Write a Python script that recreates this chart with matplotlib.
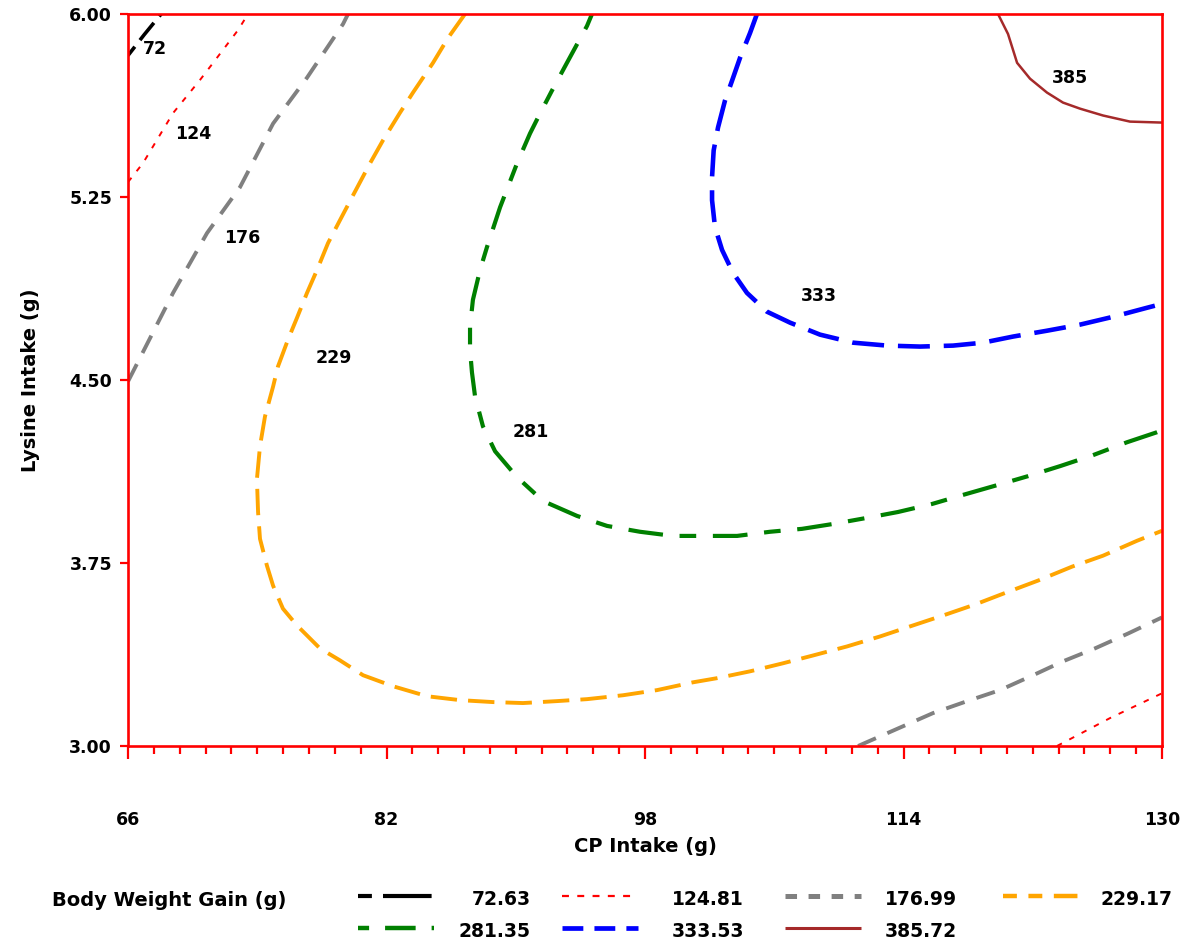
import matplotlib
matplotlib.use("Agg")
import matplotlib.pyplot as plt
from matplotlib.lines import Line2D
from matplotlib.ticker import FixedLocator, FormatStrFormatter
import numpy as np

plt.rcParams['font.family'] = ['DejaVu Sans']
plt.rcParams['lines.scale_dashes'] = False

# ---------------- data ----------------
levels = [72.63, 124.81, 176.99, 229.17, 281.35, 333.53, 385.72]
level_text = ['72.63', '124.81', '176.99', '229.17', '281.35', '333.53', '385.72']
line_labels = ['72', '124', '176', '229', '281', '333', '385']
label_x = [67.67, 70.02, 73.06, 78.75, 90.94, 108.77, 124.31]
label_y = [5.857, 5.51, 5.082, 4.592, 4.286, 4.845, 5.739]

x_ticks = [66, 82, 98, 114, 130]
y_ticks = [3.00, 3.75, 4.50, 5.25, 6.00]

# 72.63
c72_x = [66.0, 67.0, 68.05]
c72_y = [5.83, 5.915, 6.0]
# 124.81 (upper-left piece and lower-right piece)
c124a_x = [66.0, 66.93, 68.79, 70.46, 71.26, 72.81, 73.43]
c124a_y = [5.311, 5.389, 5.594, 5.730, 5.799, 5.934, 6.0]
c124b_x = [123.50, 126.80, 130.0]
c124b_y = [3.0, 3.115, 3.216]
# 176.99
c177a_x = [66.0, 68.79, 70.89, 72.93, 74.98, 77.08, 79.31, 79.62]
c177a_y = [4.494, 4.857, 5.102, 5.290, 5.551, 5.739, 5.959, 6.0]
c177b_x = [111.19, 115.83, 118.12, 119.97, 122.02, 123.87, 125.85, 127.90, 130.0]
c177b_y = [3.0, 3.135, 3.188, 3.229, 3.290, 3.347, 3.400, 3.461, 3.527]
# 229.17
c229_x = [86.86, 85.81, 84.88, 83.64, 82.84, 81.78, 80.98, 79.93, 79.12, 78.38,
          77.70, 77.08, 76.46, 75.90, 75.28, 74.98, 74.48, 74.17, 73.98, 74.05,
          74.17, 74.60, 74.98, 75.59, 76.46, 77.88, 79.12, 80.55, 82.40, 84.51,
          86.55, 88.59, 90.45, 92.55, 94.41, 96.64, 98.74, 100.97, 102.46, 104.50,
          106.54, 108.40, 110.50, 112.55, 114.40, 116.45, 118.43, 120.16, 122.33,
          124.43, 126.35, 128.45, 130.0]
c229_y = [6.000, 5.902, 5.800, 5.678, 5.596, 5.482, 5.388, 5.257, 5.155, 5.061,
          4.951, 4.857, 4.755, 4.665, 4.555, 4.473, 4.351, 4.229, 4.094, 3.959,
          3.849, 3.739, 3.657, 3.563, 3.494, 3.400, 3.351, 3.290, 3.245, 3.204,
          3.188, 3.180, 3.176, 3.184, 3.192, 3.208, 3.229, 3.261, 3.278, 3.306,
          3.339, 3.371, 3.408, 3.449, 3.490, 3.535, 3.580, 3.624, 3.678, 3.735,
          3.780, 3.841, 3.882]
# 281.35
c281_x = [94.72, 94.41, 93.17, 92.24, 91.50, 90.88, 90.08, 89.03, 88.22, 87.79,
          87.35, 87.17, 87.17, 87.29, 87.48, 87.97, 88.72, 90.08, 91.69, 93.79,
          95.65, 97.69, 99.73, 101.59, 103.70, 105.74, 107.72, 109.64, 111.74,
          113.66, 115.77, 117.68, 119.79, 121.71, 123.69, 125.73, 127.84, 129.69,
          130.0]
c281_y = [6.000, 5.951, 5.800, 5.686, 5.592, 5.510, 5.388, 5.208, 5.045, 4.951,
          4.829, 4.718, 4.624, 4.531, 4.433, 4.310, 4.208, 4.102, 4.004, 3.943,
          3.902, 3.878, 3.861, 3.861, 3.861, 3.878, 3.890, 3.910, 3.935, 3.959,
          3.992, 4.029, 4.069, 4.106, 4.147, 4.192, 4.245, 4.286, 4.294]
# 333.53
c334_x = [104.93, 104.50, 103.88, 103.39, 102.95, 102.52, 102.25, 102.15, 102.15,
          102.33, 102.77, 103.45, 104.31, 105.55, 106.98, 108.83, 110.88, 112.98,
          115.02, 117.07, 118.92, 120.78, 122.88, 124.93, 126.97, 129.07, 130.0]
c334_y = [6.000, 5.922, 5.820, 5.727, 5.645, 5.535, 5.441, 5.331, 5.237, 5.127,
          5.033, 4.939, 4.857, 4.780, 4.735, 4.686, 4.653, 4.641, 4.637, 4.641,
          4.653, 4.678, 4.702, 4.727, 4.759, 4.796, 4.812]
# 385.72
c386_x = [119.85, 120.47, 121.03, 121.83, 122.88, 123.87, 124.93, 126.35, 128.02, 130.0]
c386_y = [6.000, 5.918, 5.800, 5.735, 5.678, 5.637, 5.612, 5.584, 5.559, 5.555]

paths = [
    [(c72_x, c72_y)],
    [(c124a_x, c124a_y), (c124b_x, c124b_y)],
    [(c177a_x, c177a_y), (c177b_x, c177b_y)],
    [(c229_x, c229_y)],
    [(c281_x, c281_y)],
    [(c334_x, c334_y)],
    [(c386_x, c386_y)],
]

# ---------------- styles ----------------
colors = ['black', '#FF0000', '#808080', '#FFA500', '#008000', '#0000FF', '#A52A2A']
plot_lw = [2.6, 1.4, 2.8, 2.8, 3.0, 3.3, 1.8]
plot_dash = [(8, 6, 16, 6), (4, 6), (14, 9), (19, 8), (12, 12, 25, 12), (23, 10), None]
leg_lw = [3.0, 1.6, 3.6, 3.2, 3.2, 3.4, 2.2]
leg_dash = [(10, 8, 35, 8), (5, 6), (8.3, 8.3), (10, 8.3, 10, 8.3, 17, 8.3),
            (8, 11.5, 22, 11.5), (15, 8), None]

W, H = 1186, 947
fig = plt.figure(figsize=(W / 100, H / 100), dpi=100)
ax_l, ax_r, ax_t, ax_b = 128, 1162, 14, 746
ax = fig.add_axes([ax_l / W, 1 - ax_b / H, (ax_r - ax_l) / W, (ax_b - ax_t) / H])

for segs, col, lw, dsh in zip(paths, colors, plot_lw, plot_dash):
    for xs, ys in segs:
        ln, = ax.plot(xs, ys, color=col, lw=lw, solid_capstyle='butt',
                      dash_capstyle='butt')
        if dsh is not None:
            ln.set_dashes(dsh)

for t, lx, ly in zip(line_labels, label_x, label_y):
    ax.text(lx, ly, t, ha='center', va='center', fontsize=12.5,
            fontweight='bold', color='black')

ax.set_xlim(x_ticks[0], x_ticks[-1])
ax.set_ylim(y_ticks[0], y_ticks[-1])
ax.set_xticks(x_ticks)
ax.set_yticks(y_ticks)
ax.xaxis.set_minor_locator(FixedLocator(np.linspace(x_ticks[0], x_ticks[-1], 41)))
ax.yaxis.set_major_formatter(FormatStrFormatter('%.2f'))
ax.xaxis.set_major_formatter(FormatStrFormatter('%d'))

for sp in ax.spines.values():
    sp.set_color('#FF0000')
    sp.set_linewidth(1.9)

ax.tick_params(axis='x', which='major', direction='out', length=9.5, width=1.6,
               color='#FF0000', pad=37, labelsize=12.5)
ax.tick_params(axis='x', which='minor', direction='out', length=5.5, width=1.6,
               color='#FF0000')
ax.tick_params(axis='y', which='major', direction='out', length=5.5, width=1.6,
               color='#FF0000', pad=6, labelsize=12.5)
for lab in ax.get_xticklabels() + ax.get_yticklabels():
    lab.set_fontweight('bold')

ax.set_xlabel('CP Intake (g)', fontsize=14, fontweight='bold')
ax.set_ylabel('Lysine Intake (g)', fontsize=14, fontweight='bold')
ax.xaxis.set_label_coords(0.5, -(837 - ax_b) / (ax_b - ax_t))
ax.yaxis.set_label_coords(-(ax_l - 40) / (ax_r - ax_l), 0.5)

# ---------------- legend (drawn manually) ----------------
def fx(px):
    return px / W

def fy(py):
    return 1 - py / H

fig.text(fx(52), fy(900), 'Body Weight Gain (g)', ha='left', va='center',
         fontsize=14, fontweight='bold')
col_start = [358, 562, 785, 1003]
text_right = [531, 744, 957, 1172]
row_y = [898, 930]
for i in range(len(levels)):
    r, c = divmod(i, 4)
    ln = Line2D([fx(col_start[c]), fx(col_start[c] + 76)], [fy(row_y[r] - 2)] * 2,
                transform=fig.transFigure, color=colors[i], lw=leg_lw[i],
                solid_capstyle='butt', dash_capstyle='butt')
    if leg_dash[i] is not None:
        ln.set_dashes(leg_dash[i])
    fig.add_artist(ln)
    fig.text(fx(text_right[c]), fy(row_y[r] + 1), level_text[i], ha='right',
             va='center', fontsize=13.5, fontweight='bold')

fig.savefig('out.png', dpi=100, facecolor='white')
